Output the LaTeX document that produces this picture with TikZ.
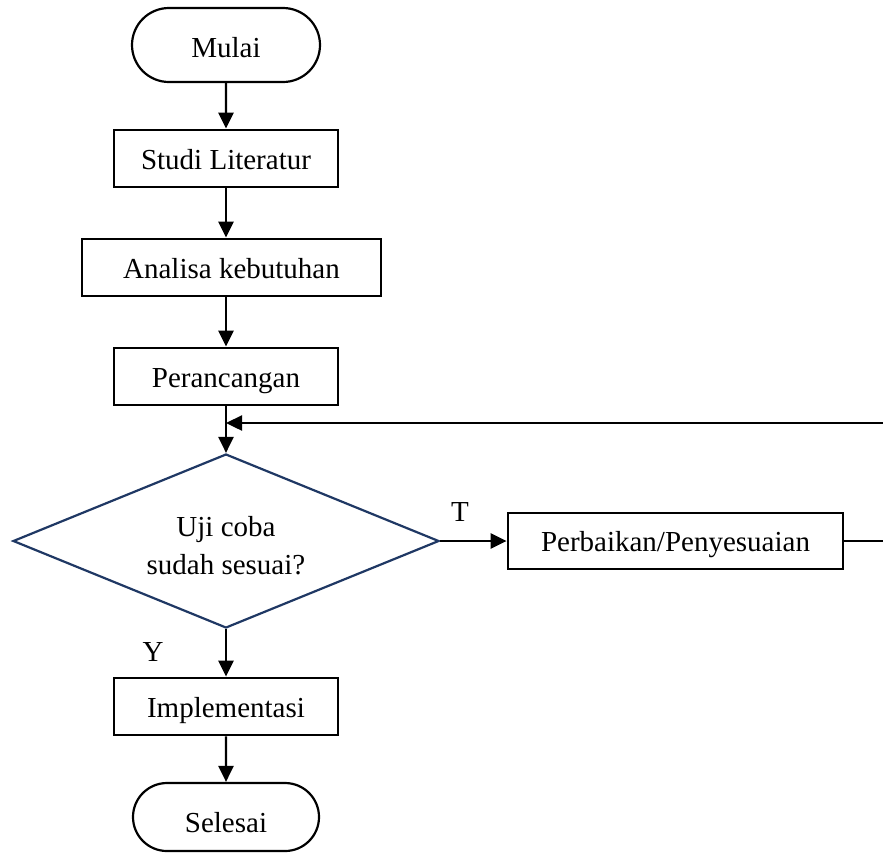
\documentclass[tikz,border=0pt]{standalone}
\usepackage{fontspec}
\setmainfont{Liberation Serif}
\usepackage{tikz}
\usetikzlibrary{shapes.geometric,shapes.misc}
\usetikzlibrary{arrows.meta}
\definecolor{decblue}{RGB}{31,56,100}
\tikzset{
    flownode/.style={align=center, inner sep=1pt, text centered, font=\fontsize{14.5}{19}\selectfont},
    terminal/.style={flownode, rounded rectangle, draw, line width=1.1pt, minimum width=96pt, minimum height=37pt, text height=12.6pt, text depth=0pt},
    process/.style={flownode, rectangle, draw, line width=1.4pt, minimum width=112pt, minimum height=28.5pt, text height=11pt, text depth=0.4pt},
    decision/.style={diamond, draw=decblue, line width=1.1pt, minimum width=213pt, minimum height=87pt, inner sep=0pt},
    answer/.style={flownode}
}

\begin{document}
\begin{tikzpicture}[
  x=0.5pt, y=-0.5pt, % one unit = one pixel of the page
  line/.style={draw, line width=1.2pt, -{Triangle[length=8pt,width=7.5pt]}}]

\clip (0,0) rectangle (883,858);
\fill[white] (0,0) rectangle (883,858);

\node[terminal] (mulai) at (226,45) {Mulai};
\node[process] (studi) at (226,158.5) {Studi Literatur};
\node[process, minimum width=149.5pt] (analisa) at (231.5,267.5) {Analisa kebutuhan};
\node[process] (perancangan) at (226,376.5) {Perancangan};
\node[decision] (uji) at (226,541) {};
\node[answer] (ujitext) at (226,546) {Uji coba\\sudah sesuai?};
\node[process, minimum width=167.5pt, minimum height=28pt] (perbaikan) at (675.5,541) {Perbaikan/Penyesuaian};
\node[process] (implementasi) at (226,706.5) {Implementasi};
\node[terminal, minimum width=95pt, minimum height=34pt, text height=15pt] (selesai) at (226,817) {Selesai};

\node[answer] (tlabel) at (460,512) {T};
\node[answer] (ylabel) at (153,652) {Y};

\coordinate (join) at (226,423);
\coordinate (turn) at (900,541);

\draw[line] (mulai) -- (studi);
\draw[line] (studi.south) -- (studi.south |- analisa.north);
\draw[line] (analisa.south -| perancangan) -- (perancangan.north);
\draw[line] (perancangan) -- (uji.north);
\draw[line] (uji.south) -- (implementasi.north);
\draw[line] (implementasi) -- (selesai);
\draw[line] (uji.east) -- (perbaikan.west);
\draw[line] (perbaikan.east) -- (turn) |- (join);

\end{tikzpicture}
\end{document}
